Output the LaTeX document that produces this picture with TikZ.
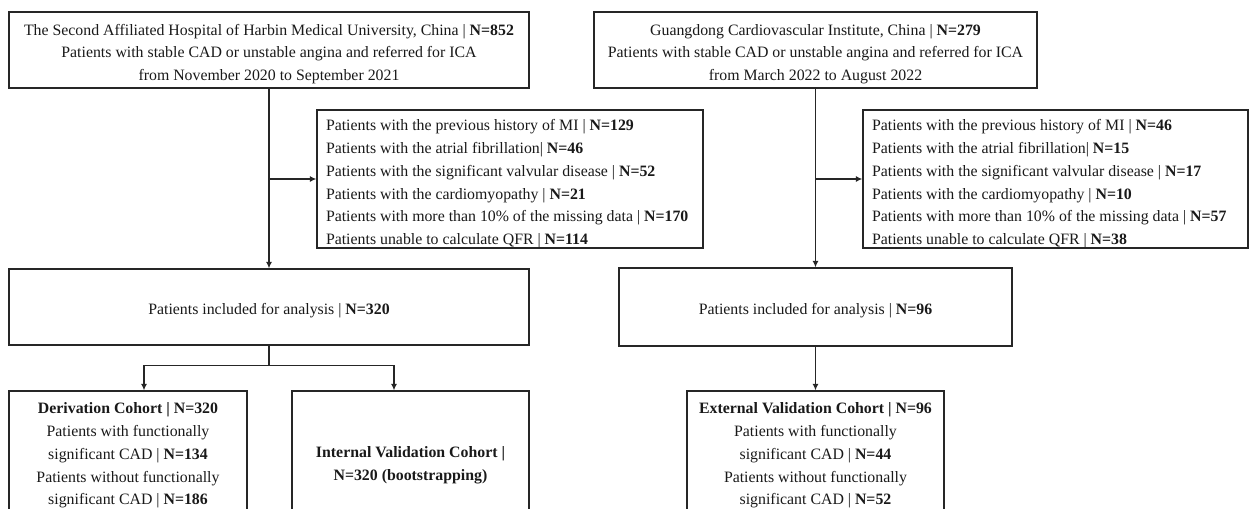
\documentclass[tikz,border=0pt]{standalone}
\usepackage{fontspec}
\setmainfont{Liberation Serif}
\usetikzlibrary{arrows.meta}

\begin{document}
\begin{tikzpicture}[x=0.5pt, y=-0.5pt,
    box/.style={draw=black!85, line width=0.65pt, align=flush center, inner sep=0pt, text width=#1,
        font=\fontsize{7.92}{11.4}\selectfont, text=black!90, text height=9.6pt},
    listbox/.style={box=#1, align=flush left, inner xsep=4.5pt, text height=10.4pt},
    link/.style={draw=black!85, line width=0.65pt},
    arr/.style={link, -{Latex[length=3.2pt, width=3pt]}}]

    \useasboundingbox (0,0) rectangle (1251,508);
    \clip (0,0) rectangle (1251,508);

    % 左側來源
    \node[box=260pt, minimum height=38pt] (hospA) at (269,50)
        {The Second Affiliated Hospital of Harbin Medical University, China | \textbf{N=852}\\
         Patients with stable CAD or unstable angina and referred for ICA\\
         from November 2020 to September 2021};
    % 右側來源
    \node[box=221.5pt, minimum height=38pt] (hospB) at (815.5,50)
        {Guangdong Cardiovascular Institute, China | \textbf{N=279}\\
         Patients with stable CAD or unstable angina and referred for ICA\\
         from March 2022 to August 2022};

    % 排除條件
    \node[listbox=184pt, minimum height=69pt] (exclA) at (510,179)
        {Patients with the previous history of MI | \textbf{N=129}\\
         Patients with the atrial fibrillation| \textbf{N=46}\\
         Patients with the significant valvular disease | \textbf{N=52}\\
         Patients with the cardiomyopathy | \textbf{N=21}\\
         Patients with more than 10\% of the missing data | \textbf{N=170}\\
         Patients unable to calculate QFR | \textbf{N=114}};
    \node[listbox=183.5pt, minimum height=69pt] (exclB) at (1055.5,179)
        {Patients with the previous history of MI | \textbf{N=46}\\
         Patients with the atrial fibrillation| \textbf{N=15}\\
         Patients with the significant valvular disease | \textbf{N=17}\\
         Patients with the cardiomyopathy | \textbf{N=10}\\
         Patients with more than 10\% of the missing data | \textbf{N=57}\\
         Patients unable to calculate QFR | \textbf{N=38}};

    % 納入分析
    \node[box=260pt, minimum height=38pt] (inclA) at (269,307)
        {Patients included for analysis | \textbf{N=320}};
    \node[box=196.5pt, minimum height=39pt] (inclB) at (815.5,307)
        {Patients included for analysis | \textbf{N=96}};

    % 隊列
    \node[box=119pt, minimum height=60.5pt] (derivA) at (128,451.5)
        {\textbf{Derivation Cohort | N=320}\\
         Patients with functionally\\
         significant CAD | \textbf{N=134}\\
         Patients without functionally\\
         significant CAD | \textbf{N=186}};
    \node[box=118.5pt, minimum height=70.5pt] (intA) at (410.5,461.5)
        {\textbf{Internal Validation Cohort |}\\
         \textbf{N=320 (bootstrapping)}};
    \node[box=128.5pt, minimum height=60.5pt] (extB) at (815.5,451.5)
        {\textbf{External Validation Cohort | N=96}\\
         Patients with functionally\\
         significant CAD | \textbf{N=44}\\
         Patients without functionally\\
         significant CAD | \textbf{N=52}};

    % 連線
    \draw[arr] (hospA) -- (inclA);
    \draw[arr] (hospA.south |- exclA.west) -- (exclA.west);
    \draw[arr] (hospB) -- (inclB);
    \draw[arr] (hospB.south |- exclB.west) -- (exclB.west);
    \draw[link] (inclA.south) -- ++(0,20) coordinate (splitA);
    \draw[arr] (splitA) -| ([xshift=8pt]derivA.north);
    \draw[arr] (splitA) -| ([xshift=-8.25pt]intA.north);
    \draw[arr] (inclB) -- (extB);
\end{tikzpicture}
\end{document}
